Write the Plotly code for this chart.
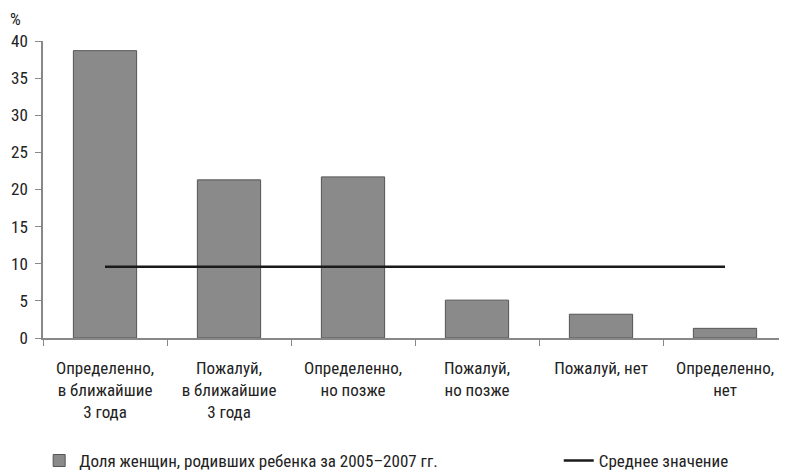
import plotly.graph_objects as go

categories = [
    "Определенно,<br>в ближайшие<br>3 года",
    "Пожалуй,<br>в ближайшие<br>3 года",
    "Определенно,<br>но позже",
    "Пожалуй,<br>но позже",
    "Пожалуй, нет",
    "Определенно,<br>нет",
]
share_values = [38.7, 21.3, 21.7, 5.1, 3.2, 1.3]
mean_values = [9.6, 9.6, 9.6, 9.6, 9.6, 9.6]
y_ticks = [0, 5, 10, 15, 20, 25, 30, 35, 40]

FONT = "Roboto Condensed, Liberation Sans Narrow, Arial Narrow, sans-serif"
TXT = "#222222"
FS = 17

fig = go.Figure()
fig.add_trace(go.Bar(
    x=categories, y=share_values,
    name="Доля женщин, родивших ребенка за 2005–2007 гг.",
    marker=dict(color="#8a8a8a", line=dict(color="#555555", width=1)),
    width=0.51,
    legend="legend",
))
fig.add_trace(go.Scatter(
    x=categories, y=mean_values, mode="lines",
    name="Среднее значение",
    line=dict(color="#1a1a1a", width=2.5),
    legend="legend2",
))

legend_common = dict(
    orientation="h", xref="container", yref="container",
    yanchor="middle", xanchor="left", y=0.028,
    font=dict(family=FONT, size=FS, color=TXT),
    itemwidth=30, bgcolor="rgba(0,0,0,0)",
)

# page body has an 8px default margin, so the figure is sized to fit inside it
fig.update_layout(
    width=779, height=466,
    margin=dict(l=35, r=0, t=33, b=136, autoexpand=False),
    paper_bgcolor="white", plot_bgcolor="white",
    font=dict(family=FONT, size=FS, color=TXT),
    bargap=0.49,
    showlegend=True,
    legend=dict(x=0.040, **legend_common),
    legend2=dict(x=0.707, **legend_common),
    annotations=[dict(text="%", xref="paper", yref="paper", x=0, y=1,
                      xanchor="right", yanchor="middle", xshift=-20, yshift=22,
                      showarrow=False,
                      font=dict(family=FONT, size=FS, color=TXT))],
)
fig.update_xaxes(
    showline=True, linecolor="#888888", linewidth=1.5,
    ticks="outside", tickson="boundaries", ticklen=6, tickcolor="#888888",
    showgrid=False, ticklabelstandoff=14, tickangle=0,
)
fig.update_yaxes(
    range=[0, 40], tickvals=y_ticks,
    showline=True, linecolor="#888888", linewidth=1.5,
    ticks="outside", ticklen=6, tickcolor="#888888",
    showgrid=False, zeroline=False, ticklabelstandoff=4,
)
fig.write_html("out.html")
